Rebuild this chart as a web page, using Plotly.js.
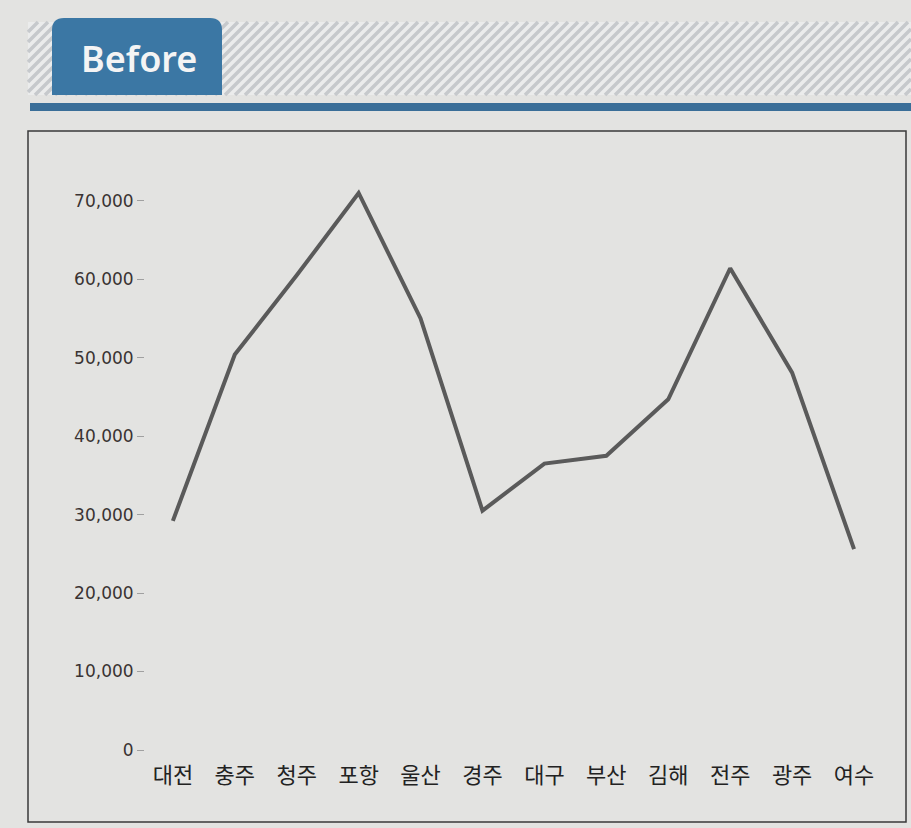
<!DOCTYPE html>
<html>
<head>
<meta charset="utf-8">
<script src="https://cdn.plot.ly/plotly-3.0.1.min.js"></script>
<style>
  html, body { margin: 0; padding: 0; background: #e3e3e1; }
  #chart { width: 911px; height: 828px; }
</style>
</head>
<body>
<div id="chart"></div>
<script>
// Data
const cities = ["대전", "충주", "청주", "포항", "울산", "경주", "대구", "부산", "김해", "전주", "광주", "여수"];
const values = [29200, 50400, 60500, 71000, 55000, 30500, 36500, 37500, 44700, 61400, 48100, 25600];
const yTickVals = [0, 10000, 20000, 30000, 40000, 50000, 60000, 70000];
const yTickText = ["0", "10,000", "20,000", "30,000", "40,000", "50,000", "60,000", "70,000"];
const headerLabel = "Before";

// Layout geometry (pixels)
const W = 911, H = 828;
const L = 145, R = 885, T = 160, B = 760;
const px = x => (x - L) / (R - L);
const py = y => (B - y) / (B - T);

const shapes = [];
// stripe band background
shapes.push({type: 'rect', xref: 'paper', yref: 'paper', x0: px(28), x1: px(911), y0: py(95), y1: py(22),
  fillcolor: '#ebecec', line: {width: 0}, layer: 'above'});
// diagonal stripes (decoration)
let d = '';
const sx0 = 28, sx1 = 911, yTop = 22, yBot = 95, h = yBot - yTop;
for (let x0 = sx0 - h; x0 < sx1; x0 += 10) {
  let xa = x0, ya = yBot, xb = x0 + h, yb = yTop;
  if (xa < sx0) { ya = yBot - (sx0 - xa); xa = sx0; }
  if (xb > sx1) { yb = yTop + (xb - sx1); xb = sx1; }
  if (xb <= xa) continue;
  d += `M${px(xa)},${py(ya)}L${px(xb)},${py(yb)}`;
}
shapes.push({type: 'path', xref: 'paper', yref: 'paper', path: d, line: {color: '#c6c9cc', width: 3.5}, layer: 'above'});
// blue tab with rounded top corners
const tx0 = 52, tx1 = 222, ty0 = 18, ty1 = 95, r = 12;
const tab = `M${px(tx0)},${py(ty1)}L${px(tx0)},${py(ty0 + r)}Q${px(tx0)},${py(ty0)} ${px(tx0 + r)},${py(ty0)}` +
  `L${px(tx1 - r)},${py(ty0)}Q${px(tx1)},${py(ty0)} ${px(tx1)},${py(ty0 + r)}L${px(tx1)},${py(ty1)}Z`;
shapes.push({type: 'path', xref: 'paper', yref: 'paper', path: tab, fillcolor: '#3b77a4', line: {width: 0}, layer: 'above'});
// blue rule
shapes.push({type: 'rect', xref: 'paper', yref: 'paper', x0: px(30), x1: px(911), y0: py(111), y1: py(103),
  fillcolor: '#3a6e98', line: {width: 0}, layer: 'above'});
// chart frame
shapes.push({type: 'rect', xref: 'paper', yref: 'paper', x0: px(28), x1: px(906), y0: py(822), y1: py(131),
  fillcolor: 'rgba(0,0,0,0)', line: {color: '#3a3a3a', width: 1.5}, layer: 'below'});

const trace = {
  type: 'scatter', mode: 'lines',
  x: cities, y: values,
  line: {color: '#5a5a5a', width: 4},
  hoverinfo: 'x+y'
};

const layout = {
  width: W, height: H,
  margin: {l: L, r: W - R, t: T, b: H - B},
  paper_bgcolor: '#e3e3e1',
  plot_bgcolor: 'rgba(0,0,0,0)',
  showlegend: false,
  xaxis: {
    type: 'category', range: [-0.45, 11.5],
    showgrid: false, zeroline: false, showline: false, ticks: '',
    tickfont: {family: 'Noto Sans CJK KR', size: 22, color: '#222'}
  },
  yaxis: {
    range: [-1275, 75200],
    tickvals: yTickVals, ticktext: yTickText,
    showgrid: false, zeroline: false, showline: false,
    ticks: 'outside', ticklen: 7, tickcolor: '#a0a0a0', tickwidth: 1,
    tickfont: {family: 'DejaVu Sans', size: 17, color: '#3a3333'}
  },
  shapes: shapes,
  annotations: [{
    xref: 'paper', yref: 'paper', x: px(139), y: py(58), text: headerLabel, showarrow: false,
    xanchor: 'center', yanchor: 'middle',
    font: {family: 'Noto Sans', size: 36, color: '#f4f4f4', weight: 600}
  }]
};

Plotly.newPlot('chart', [trace], layout, {displayModeBar: false, staticPlot: true});
</script>
</body>
</html>
